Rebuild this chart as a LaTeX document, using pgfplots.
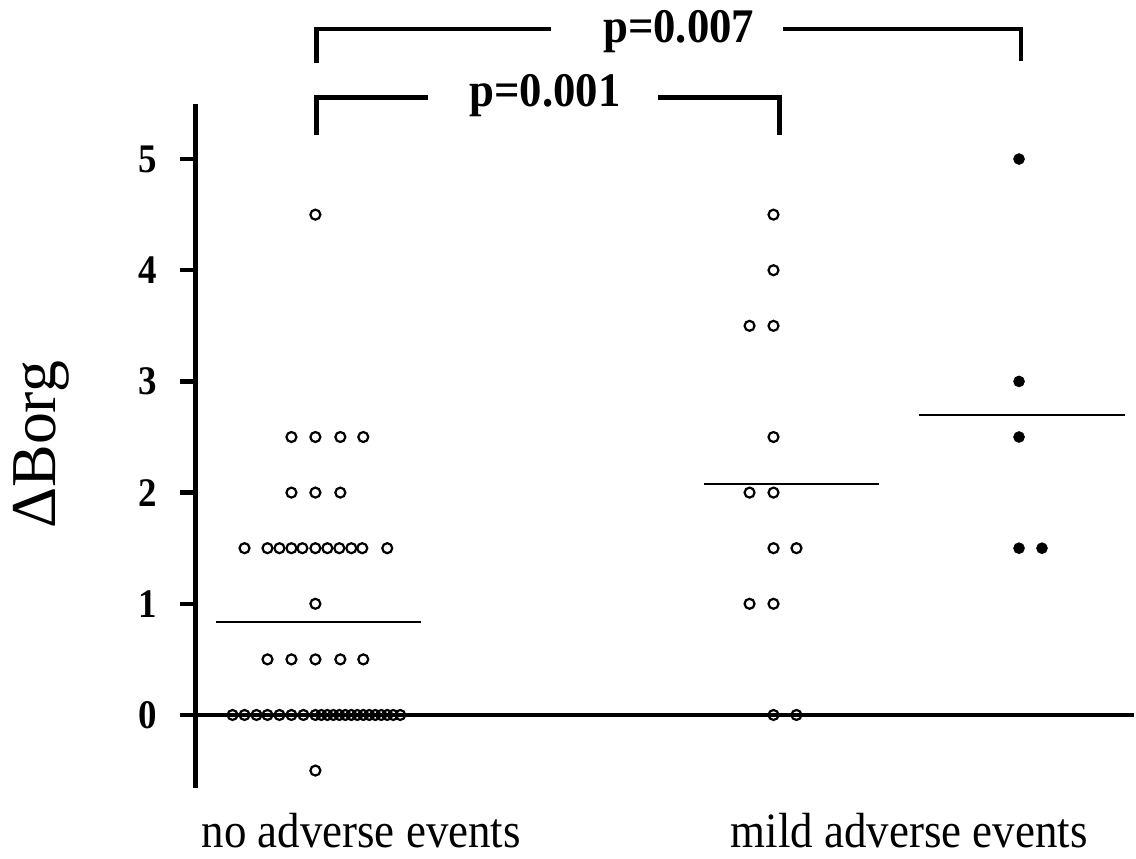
\documentclass[border=0pt]{standalone}
\usepackage{fontspec}
\setmainfont{Liberation Serif}
\usepackage{pgfplots}
\pgfplotsset{compat=1.18}

% x positions are in reference pixels, y is the Borg change
\pgfplotstableread{
x y
316 4.5
292 2.5
316 2.5
341 2.5
364 2.5
292 2.0
316 2.0
341 2.0
245 1.5
268 1.5
280 1.5
292 1.5
303 1.5
316 1.5
328 1.5
340 1.5
352 1.5
363 1.5
388 1.5
316 1.0
268 0.5
292 0.5
316 0.5
341 0.5
364 0.5
233 0
245 0
257 0
268 0
280 0
292 0
304 0
316 0
322 0
328 0
334 0
340 0
346 0
352 0
358 0
364 0
370 0
376 0
382 0
388 0
394 0
401 0
316 -0.5
}\noadverse

\pgfplotstableread{
x y
775 4.5
775 4.0
751 3.5
775 3.5
775 2.5
751 2.0
775 2.0
775 1.5
798 1.5
751 1.0
775 1.0
775 0
798 0
}\mildopen

\pgfplotstableread{
x y
1021 5.0
1021 3.0
1021 2.5
1021 1.5
1044 1.5
}\mildfilled

\begin{document}
\begin{tikzpicture}
\begin{axis}[
    scale only axis,
    width=470pt, height=342.5pt,
    xmin=196, xmax=1136,
    ymin=-0.655, ymax=5.494,
    clip=false,
    axis on top,
    axis y line*=left,
    axis x line*=middle,
    axis line style={line width=2.2pt},
    xtick=\empty,
    ytick={0,1,2,3,4,5},
    tick align=outside,
    major tick length=8pt,
    tick style={line width=2.2pt, black},
    /pgf/number format/assume math mode=true,
    yticklabel={\scalebox{1}[1.1]{\pgfmathprintnumber{\tick}}},
    yticklabel style={font=\fontsize{18.5}{18.5}\selectfont\bfseries, anchor=east, inner sep=0pt, xshift=-11pt},
]
    \addplot[only marks, mark=o, mark size=2.5pt, mark options={line width=1.1pt}] table[x=x, y=y] {\noadverse};
    \addplot[only marks, mark=o, mark size=2.5pt, mark options={line width=1.1pt}] table[x=x, y=y] {\mildopen};
    \addplot[only marks, mark=*, mark size=2.7pt, mark options={fill=black}] table[x=x, y=y] {\mildfilled};

    % group means
    \addplot[black, line width=1pt] coordinates {(216,0.833) (422,0.833)};
    \addplot[black, line width=1pt] coordinates {(705,2.077) (881,2.077)};
    \addplot[black, line width=1pt] coordinates {(921,2.7) (1127,2.7)};

    % significance brackets
    \draw[line width=2.2pt] (axis cs:317,5.865) -- (axis cs:317,6.170) -- (axis cs:552,6.170);
    \draw[line width=2.2pt] (axis cs:785,6.170) -- (axis cs:1023,6.170) -- (axis cs:1023,5.883);
    \node[anchor=base, inner sep=0pt, font=\fontsize{22.4}{22.4}\selectfont\bfseries] at (axis cs:680,6.045) {\scalebox{1}[1.08]{p=0.007}};

    \draw[line width=2.2pt] (axis cs:317,5.220) -- (axis cs:317,5.552) -- (axis cs:429,5.552);
    \draw[line width=2.2pt] (axis cs:659,5.552) -- (axis cs:781,5.552) -- (axis cs:781,5.220);
    \node[anchor=base, inner sep=0pt, font=\fontsize{22.4}{22.4}\selectfont\bfseries] at (axis cs:546,5.471) {\scalebox{1}[1.08]{p=0.001}};

    % labels
    \node[rotate=90, inner sep=0pt, font=\fontsize{32}{32}\selectfont] at (axis cs:41,2.430) {ΔBorg};
    \node[anchor=base, inner sep=0pt, font=\fontsize{22.5}{22.5}\selectfont] at (axis cs:362,-1.193) {\scalebox{1}[1.1]{no adverse events}};
    \node[anchor=base, inner sep=0pt, font=\fontsize{22.5}{22.5}\selectfont] at (axis cs:911,-1.193) {\scalebox{1}[1.1]{mild adverse events}};

    % page frame of the reference
    \path (axis cs:0,-1.2915) rectangle (axis cs:1136,6.4305);
\end{axis}
\end{tikzpicture}
\end{document}
